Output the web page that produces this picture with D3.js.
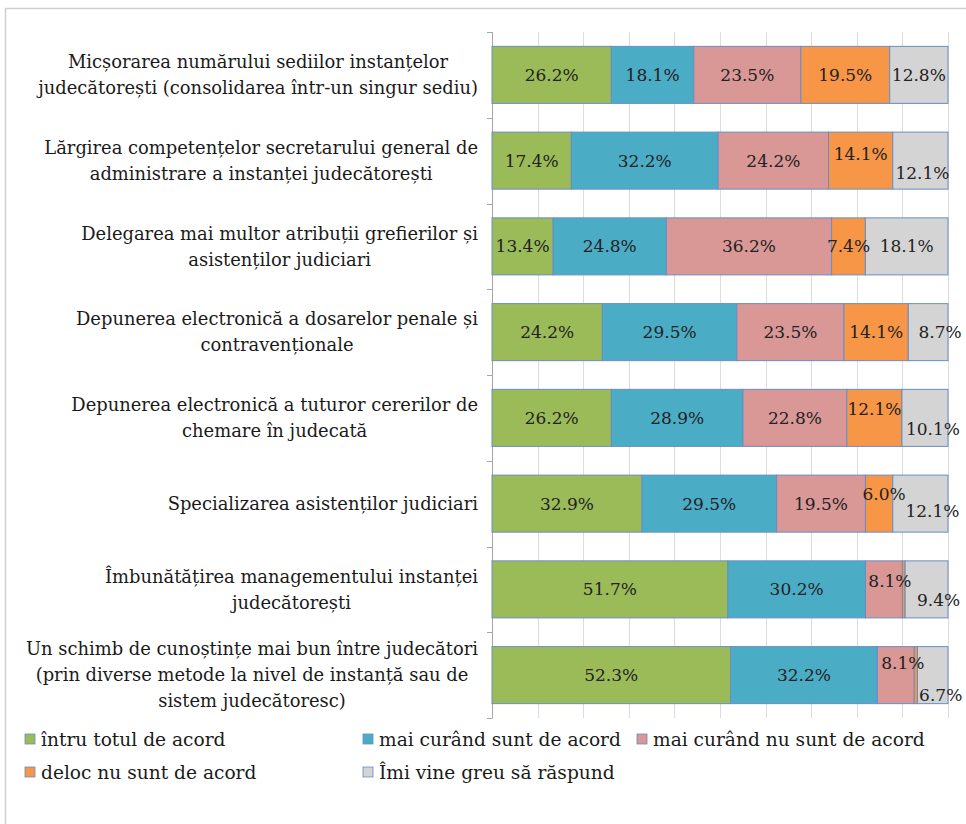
<!DOCTYPE html>
<html>
<head>
<meta charset="utf-8">
<script src="https://cdn.jsdelivr.net/npm/d3@7"></script>
<style>
  html, body { margin: 0; padding: 0; background: #fff; }
  svg { display: block; }
</style>
</head>
<body>
<script>
// ---- data ----
const categories = [
  "Micșorarea numărului sediilor instanțelor\njudecătorești (consolidarea într-un singur sediu)",
  "Lărgirea competențelor secretarului general de\nadministrare a instanței judecătorești",
  "Delegarea mai multor atribuții grefierilor și\nasistenților judiciari",
  "Depunerea electronică a dosarelor penale și\ncontravenționale",
  "Depunerea electronică a tuturor cererilor de\nchemare în judecată",
  "Specializarea asistenților judiciari",
  "Îmbunătățirea managementului instanței\njudecătorești",
  "Un schimb de cunoștințe mai bun între judecători\n(prin diverse metode la nivel de instanță sau de\nsistem judecătoresc)"
];
const seriesNames = [
  "întru totul de acord",
  "mai curând sunt de acord",
  "mai curând nu sunt de acord",
  "deloc nu sunt de acord",
  "Îmi vine greu să răspund"
];
const totalAgree    = [26.2, 17.4, 13.4, 24.2, 26.2, 32.9, 51.7, 52.3];
const ratherAgree   = [18.1, 32.2, 24.8, 29.5, 28.9, 29.5, 30.2, 32.2];
const ratherDisagree= [23.5, 24.2, 36.2, 23.5, 22.8, 19.5,  8.1,  8.1];
const notAgree      = [19.5, 14.1,  7.4, 14.1, 12.1,  6.0,  0.6,  0.7];
const hardToSay     = [12.8, 12.1, 18.1,  8.7, 10.1, 12.1,  9.4,  6.7];
const xTicks = [0, 0.1, 0.2, 0.3, 0.4, 0.5, 0.6, 0.7, 0.8, 0.9, 1];

// ---- styling / layout ----
const colors = ["#9BBB59", "#4BACC6", "#D99795", "#F79646", "#D4D4D4"];
const W = 966, H = 824;
const plot = { left: 492, right: 948, top: 32, bottom: 718 };
const nudges = {
  "1-3": [0, -7], "1-4": [2, 12],
  "3-4": [12, 0],
  "4-3": [0, -9], "4-4": [8, 11],
  "5-3": [5, -10], "5-4": [12, 7],
  "6-2": [6, -8], "6-4": [12, 11],
  "7-2": [7, -12], "7-4": [8, 20]
};
const font = "DejaVu Serif";

const svg = d3.select("body").append("svg").attr("width", W).attr("height", H);

// fit a font size so that a sample text reaches a target width
function fitSize(sample, target) {
  const t = svg.append("text").style("font-family", font).attr("font-size", 100).text(sample);
  const w = t.node().getComputedTextLength();
  t.remove();
  return Math.round(100 * target / w * 10) / 10;
}
const catSize = Math.min(18.5, fitSize("judecătorești (consolidarea într-un singur sediu)", 441));
const valSize = Math.min(17, fitSize("26.2%", 60));
const legSize = Math.min(18.6, fitSize("mai curând nu sunt de acord", 297));

const rows = categories.map((c, i) => {
  const o = { cat: c, idx: i };
  [totalAgree, ratherAgree, ratherDisagree, notAgree, hardToSay].forEach((arr, k) => o["s" + k] = arr[i]);
  return o;
});
const keys = ["s0", "s1", "s2", "s3", "s4"];
const stacked = d3.stack().keys(keys).offset(d3.stackOffsetExpand)(rows);

svg.append("rect").attr("x", 5.5).attr("y", 8.5).attr("width", W + 10).attr("height", H + 10)
  .attr("fill", "#fff").attr("stroke", "#d0d0d0").attr("stroke-width", 1.5);

const x = d3.scaleLinear().domain([0, 1]).range([plot.left, plot.right]);
const y = d3.scaleBand().domain(d3.range(categories.length))
  .range([plot.top, plot.bottom]).paddingInner(0.335).paddingOuter(0.1675);

svg.append("g").selectAll("line").data(xTicks.slice(1)).join("line")
  .attr("x1", d => Math.round(x(d)) + 0.5).attr("x2", d => Math.round(x(d)) + 0.5)
  .attr("y1", plot.top).attr("y2", plot.bottom)
  .attr("stroke", "#dcdcdc").attr("stroke-width", 1);

const step = y.step();
const tickYs = d3.range(categories.length + 1).map(i => plot.top + i * step);
const axisG = svg.append("g");
axisG.append("line").attr("x1", plot.left + 0.5).attr("x2", plot.left + 0.5)
  .attr("y1", plot.top).attr("y2", plot.bottom).attr("stroke", "#a6a6a6");
axisG.selectAll("line.tk").data(tickYs).join("line").attr("class", "tk")
  .attr("x1", plot.left - 5).attr("x2", plot.left + 0.5)
  .attr("y1", d => Math.round(d) + 0.5).attr("y2", d => Math.round(d) + 0.5)
  .attr("stroke", "#a6a6a6");

const barG = svg.append("g");
stacked.forEach((layer, k) => {
  barG.append("g").selectAll("rect").data(layer).join("rect")
    .attr("x", d => x(d[0]))
    .attr("y", (d, i) => y(i))
    .attr("width", d => Math.max(0, x(d[1]) - x(d[0])))
    .attr("height", y.bandwidth())
    .attr("fill", colors[k])
    .attr("stroke", "#6a8dc4").attr("stroke-width", 1);
});

const labG = svg.append("g");
stacked.forEach((layer, k) => {
  const vals = [totalAgree, ratherAgree, ratherDisagree, notAgree, hardToSay][k];
  layer.forEach((d, i) => {
    const v = vals[i];
    if (v < 1) return;
    const nd = nudges[i + "-" + k] || [0, 0];
    labG.append("text")
      .attr("x", (x(d[0]) + x(d[1])) / 2 + nd[0])
      .attr("y", y(i) + y.bandwidth() / 2 + nd[1])
      .attr("dy", "0.35em")
      .attr("text-anchor", "middle")
      .style("font-family", font).attr("font-size", valSize)
      .attr("fill", "#222")
      .text(d3.format(".1f")(v) + "%");
  });
});

const catG = svg.append("g");
const lineH = 26;
categories.forEach((c, i) => {
  const lines = c.split("\n");
  const g = catG.append("g");
  const texts = lines.map((ln, j) => g.append("text")
    .style("font-family", font).attr("font-size", catSize).attr("fill", "#1a1a1a")
    .attr("text-anchor", "middle")
    .attr("y", y(i) + y.bandwidth() / 2 + (j - (lines.length - 1) / 2) * lineH)
    .attr("dy", "0.35em").text(ln));
  const maxW = d3.max(texts, t => t.node().getComputedTextLength());
  const cx = 478 - maxW / 2;
  texts.forEach(t => t.attr("x", cx));
});

const legendPos = [[30, 739], [368, 739], [642, 739], [30, 772], [368, 772]];
const legG = svg.append("g");
seriesNames.forEach((nm, k) => {
  const [lx, ly] = legendPos[k];
  legG.append("rect").attr("x", lx - 5).attr("y", ly - 5).attr("width", 10).attr("height", 10)
    .attr("fill", colors[k]).attr("stroke", "#6a8dc4").attr("stroke-width", 0.8);
  legG.append("text").attr("x", lx + 11).attr("y", ly).attr("dy", "0.35em")
    .style("font-family", font).attr("font-size", legSize).attr("fill", "#1a1a1a")
    .text(nm);
});
</script>
</body>
</html>
